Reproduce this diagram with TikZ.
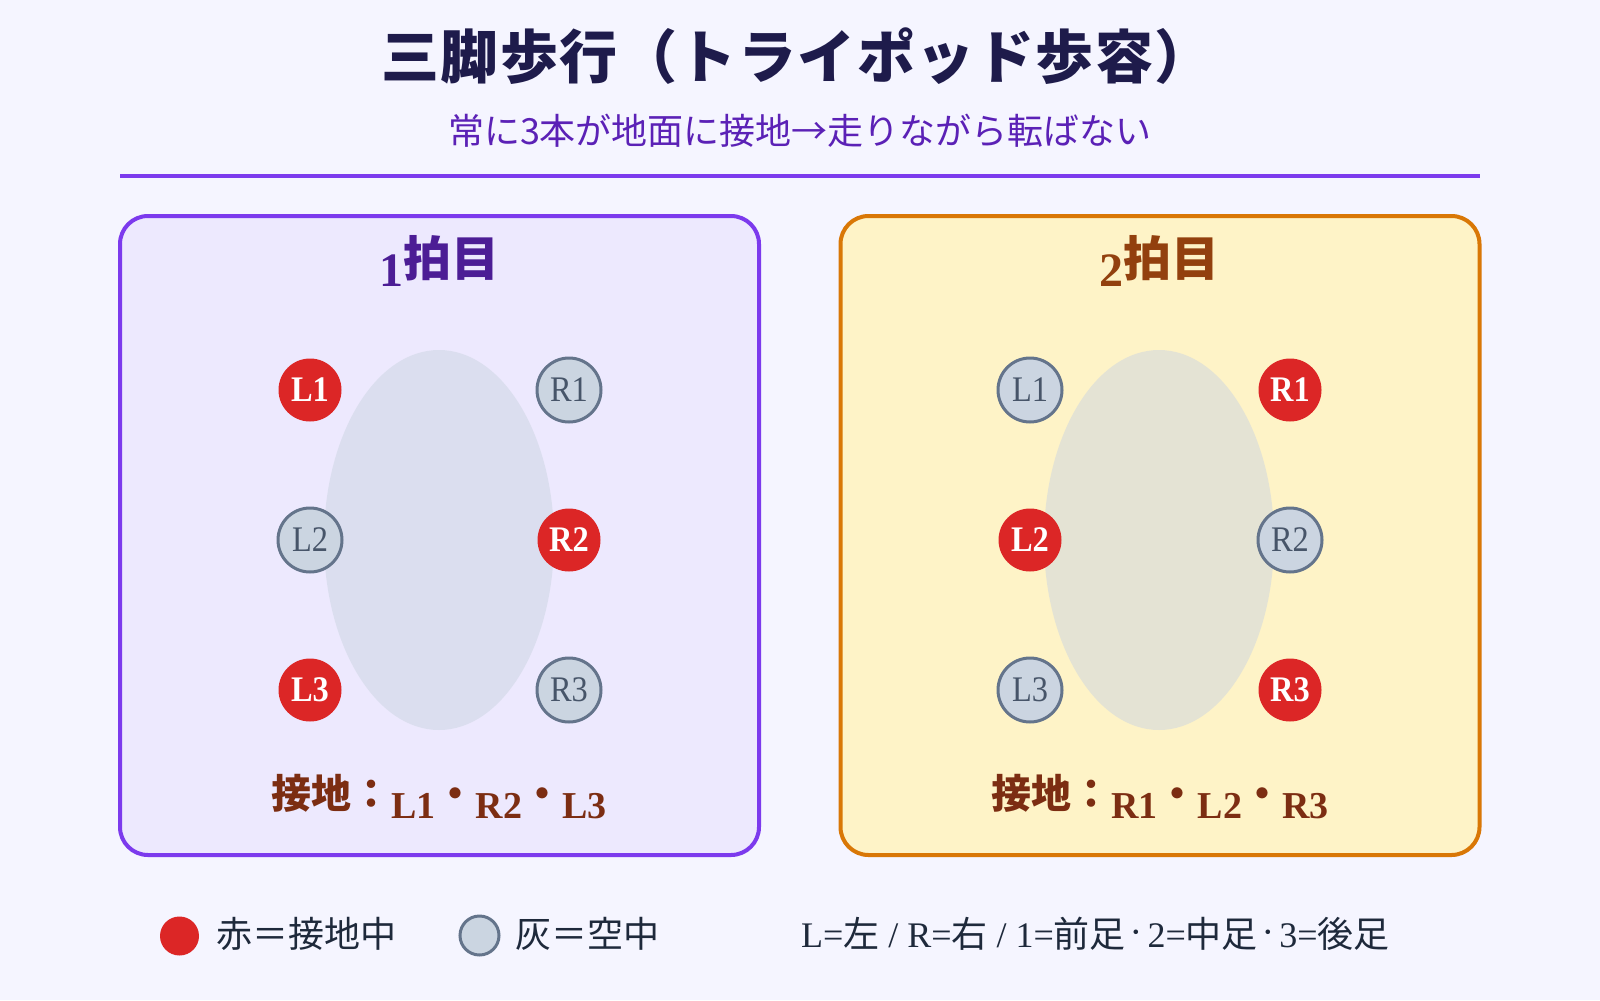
\documentclass[tikz,border=0pt]{standalone}
\usepackage{graphicx}
\usepackage{fontspec}
\setmainfont{Liberation Serif}
\newfontfamily\jp{Noto Sans CJK JP}
\usetikzlibrary{shapes.geometric}
\definecolor{bg}{HTML}{F5F5FF}
\definecolor{titlec}{HTML}{1E1B4B}
\definecolor{subc}{HTML}{5B21B6}
\definecolor{rulec}{HTML}{7C3AED}
\definecolor{pfillA}{HTML}{EDE9FE}
\definecolor{pdrawA}{HTML}{7C3AED}
\definecolor{pfillB}{HTML}{FEF3C7}
\definecolor{pdrawB}{HTML}{D97706}
\definecolor{headA}{HTML}{4C1D95}
\definecolor{headB}{HTML}{92400E}
\definecolor{groundc}{HTML}{7C2D12}
\definecolor{footred}{HTML}{DC2626}
\definecolor{slateF}{HTML}{CBD5E1}
\definecolor{slateD}{HTML}{64748B}
\definecolor{slateT}{HTML}{475569}
\definecolor{legc}{HTML}{1E293B}
\newcommand\setfs[1]{\fontsize{#1}{#1}\selectfont}
\newcommand\footlab[1]{\scalebox{0.9}[1]{#1}}
\newcommand\smalldot{\raisebox{0.17em}{\scalebox{0.6}{\jp ・}}}
\tikzset{
  panel/.style={rounded corners=21pt, line width=3pt, minimum width=479.25pt, minimum height=479.25pt, inner sep=0pt},
  bodyshape/.style={ellipse, fill=slateF, fill opacity=0.5, draw=none, minimum width=172.5pt, minimum height=285pt, inner sep=0pt},
  onfoot/.style={circle, fill=footred, minimum size=47.25pt, inner sep=0pt, text=white, font=\setfs{27pt}\bfseries},
  offfoot/.style={circle, fill=slateF, draw=slateD, line width=2.25pt, minimum size=48pt, inner sep=0pt, text=slateT, font=\setfs{27pt}},
  txt/.style={inner sep=0pt, outer sep=0pt},
}
\begin{document}
\begin{tikzpicture}[x=0.75pt,y=-0.75pt]
\fill[bg] (0,0) rectangle (1600,1000);
\useasboundingbox (0,0) rectangle (1600,1000);

% title
\node[txt, anchor=base, text=titlec] (title) at (797,78) {\setfs{43.5pt}\jp\bfseries\addfontfeature{LetterSpace=2.6}三脚歩行（トライポッド歩容）};
\node[txt, anchor=base, text=subc] (subtitle) at (800,144) {\setfs{27pt}\jp 常に3本が地面に接地→走りながら転ばない};
\coordinate (ruleL) at (120,175.5);
\coordinate (ruleR) at (1480,175.5);
\draw[rulec, line width=3pt] (ruleL) -- (ruleR);

% panels
\node[panel, draw=pdrawA, fill=pfillA] (panelA) at (439.5,535.5) {};
\node[panel, draw=pdrawB, fill=pfillB] (panelB) at (1160,535.5) {};

\node[txt, anchor=base, text=headA] (headA) at (439,286) {\setfs{36pt}\bfseries 1\raisebox{7.5pt}{\jp 拍目}};
\node[txt, anchor=base, text=headB] (headB) at (1159,286) {\setfs{36pt}\bfseries 2\raisebox{7.5pt}{\jp 拍目}};

% bodies
\node[bodyshape] (bodyA) at (439,540) {};
\node[bodyshape] (bodyB) at (1159,540) {};

% feet beat 1
\node[onfoot]  (aL1) at (310,390) {\footlab{L1}};
\node[offfoot] (aR1) at (569,390) {\footlab{R1}};
\node[offfoot] (aL2) at (310,540) {\footlab{L2}};
\node[onfoot]  (aR2) at (569,540) {\footlab{R2}};
\node[onfoot]  (aL3) at (310,690) {\footlab{L3}};
\node[offfoot] (aR3) at (569,690) {\footlab{R3}};

% feet beat 2
\node[offfoot] (bL1) at (1030,390) {\footlab{L1}};
\node[onfoot]  (bR1) at (1290,390) {\footlab{R1}};
\node[onfoot]  (bL2) at (1030,540) {\footlab{L2}};
\node[offfoot] (bR2) at (1290,540) {\footlab{R2}};
\node[offfoot] (bL3) at (1030,690) {\footlab{L3}};
\node[onfoot]  (bR3) at (1290,690) {\footlab{R3}};

% ground texts
\node[txt, anchor=base, text=groundc] (groundA) at (439,818) {\bfseries\raisebox{7.5pt}{\setfs{30pt}\jp 接地：}\setfs{28.5pt}L1\raisebox{7.5pt}{\setfs{30pt}\jp ・}R2\raisebox{7.5pt}{\setfs{30pt}\jp ・}L3};
\node[txt, anchor=base, text=groundc] (groundB) at (1160,818) {\bfseries\raisebox{7.5pt}{\setfs{30pt}\jp 接地：}\setfs{28.5pt}R1\raisebox{7.5pt}{\setfs{30pt}\jp ・}L2\raisebox{7.5pt}{\setfs{30pt}\jp ・}R3};

% legend
\node[circle, fill=footred, minimum size=29.25pt, inner sep=0pt] (legOn) at (179.5,936) {};
\node[txt, anchor=base west, text=legc] (legOnT) at (216,947) {\setfs{27pt}\jp 赤＝接地中};
\node[circle, fill=slateF, draw=slateD, line width=2.25pt, minimum size=29.25pt, inner sep=0pt] (legOff) at (479.5,935.5) {};
\node[txt, anchor=base west, text=legc] (legOffT) at (515,947) {\setfs{27pt}\jp 灰＝空中};
\node[txt, anchor=base west, text=legc] (legKey) at (801,947) {\setfs{27pt}L={\jp 左} / R={\jp 右} / 1={\jp 前足}\smalldot 2={\jp 中足}\smalldot 3={\jp 後足}};
\end{tikzpicture}
\end{document}
